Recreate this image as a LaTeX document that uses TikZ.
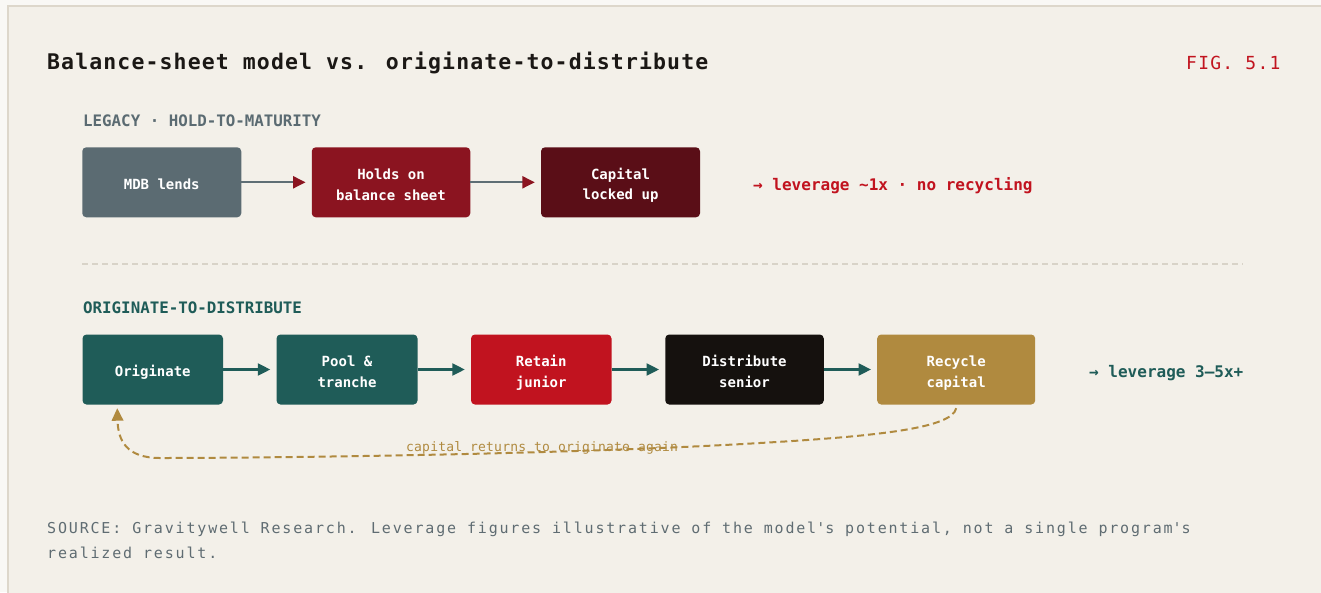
\documentclass[tikz,border=0pt]{standalone}
\usepackage{fontspec}
\usetikzlibrary{arrows.meta}
\newfontfamily\mono{DejaVu Sans Mono}

% palette
\definecolor{pagebg}{HTML}{F9F8F5}
\definecolor{panelbg}{HTML}{F3F0E9}
\definecolor{panelline}{HTML}{DDD7CB}
\definecolor{ink}{HTML}{1B1815}
\definecolor{figred}{HTML}{C1141F}
\definecolor{slate}{HTML}{5B6B72}
\definecolor{flowgray}{HTML}{5E6E75}
\definecolor{wine}{HTML}{8B1420}
\definecolor{maroon}{HTML}{5A0E17}
\definecolor{teal}{HTML}{1F5C58}
\definecolor{alarm}{HTML}{C1131F}
\definecolor{coal}{HTML}{15110E}
\definecolor{gold}{HTML}{B08A3F}
\definecolor{sepgray}{HTML}{D8D3C8}
\definecolor{notegray}{HTML}{5F6C72}

% type settings
\newcommand\titlefont{\mono\bfseries\fontsize{21.5}{26}\selectfont\addfontfeature{LetterSpace=5.2}}
\newcommand\figfont{\mono\fontsize{18}{22}\selectfont\addfontfeature{LetterSpace=7}}
\newcommand\headfont{\mono\bfseries\fontsize{15.8}{20}\selectfont}
\newcommand\boxfont{\mono\bfseries\fontsize{14}{20.5}\selectfont}
\newcommand\levfont{\mono\bfseries\fontsize{16}{20}\selectfont}
\newcommand\loopfont{\mono\fontsize{13}{16}\selectfont\addfontfeature{LetterSpace=1.5}}
\newcommand\notefont{\mono\fontsize{15}{25.3}\selectfont\addfontfeature{LetterSpace=12.2}}
% line strut: 17.5pt above and 2.5pt below the baseline
\newcommand\lnstrut{\rule[-2.5pt]{0pt}{20pt}}

\tikzset{
  stepbox/.style={rounded corners=4pt, minimum height=70pt, inner sep=0pt,
    text=white, font=\boxfont, align=center},
  txt/.style={anchor=base west, inner sep=0pt},
  legacyflow/.style={draw=flowgray, line width=2.2pt,
    -{Triangle[length=12.5pt,width=12pt,color=wine]}, shorten >=6pt},
  otdflow/.style={draw=teal, line width=2.3pt,
    -{Triangle[length=12.5pt,width=12pt]}, shorten >=6pt},
  loopflow/.style={draw=gold, line width=2pt, dash pattern=on 7pt off 4pt,
    -{Triangle[length=12.5pt,width=11.5pt]}},
}

\begin{document}
\begin{tikzpicture}[x=1pt,y=-1pt]
\useasboundingbox (0,0) rectangle (1321,592);
\fill[pagebg] (0,0) rectangle (1321,592);
\draw[panelline, fill=panelbg, line width=2pt] (7.8,5.8) rectangle (1340,610);

% heading
\node[txt, font=\titlefont, text=ink] (title) at (47,69.3)
  {Balance-sheet model vs. originate-to-distribute};
\node[txt, font=\figfont, text=figred] (fig) at (1186,69.3) {FIG. 5.1};

% legacy row
\node[txt, font=\headfont, text=slate] (legacyhead) at (83,126)
  {LEGACY · HOLD-TO-MATURITY};
\node[stepbox, fill=slate, minimum width=159pt] (mdb) at (161.75,182.3)
  {\lnstrut MDB lends};
\node[stepbox, fill=wine, minimum width=158.5pt] (holds) at (391,182.3)
  {\lnstrut Holds on\\\lnstrut balance sheet};
\node[stepbox, fill=maroon, minimum width=159pt] (locked) at (620.5,182.3)
  {\lnstrut Capital\\\lnstrut locked up};
\draw[legacyflow] (mdb.east) -- (holds.west);
\draw[legacyflow] (holds.east) -- (locked.west);
\node[txt, font=\levfont, text=alarm] (legacylev) at (753,190)
  {→ leverage \textasciitilde 1x · no recycling};

% divider
\coordinate (divl) at (82,264);
\coordinate (divr) at (1243,264);
\draw[sepgray, line width=1.3pt, dash pattern=on 6pt off 4pt] (divl) -- (divr);

% originate-to-distribute row
\node[txt, font=\headfont, text=teal] (otdhead) at (83,313.3)
  {ORIGINATE-TO-DISTRIBUTE};
\node[stepbox, fill=teal, minimum width=140.5pt] (orig) at (152.75,369.5)
  {\lnstrut Originate};
\node[stepbox, fill=teal, minimum width=141pt] (pool) at (347,369.5)
  {\lnstrut Pool \&\\\lnstrut tranche};
\node[stepbox, fill=alarm, minimum width=140.5pt] (retain) at (541.25,369.5)
  {\lnstrut Retain\\\lnstrut junior};
\node[stepbox, fill=coal, minimum width=158.5pt] (distr) at (744.5,369.5)
  {\lnstrut Distribute\\\lnstrut senior};
\node[stepbox, fill=gold, minimum width=158pt] (recyc) at (956.2,369.5)
  {\lnstrut Recycle\\\lnstrut capital};
\draw[otdflow] (orig.east) -- (pool.west);
\draw[otdflow] (pool.east) -- (retain.west);
\draw[otdflow] (retain.east) -- (distr.west);
\draw[otdflow] (distr.east) -- (recyc.west);
\node[txt, font=\levfont, text=teal] (otdlev) at (1089,377.5)
  {→ leverage 3–5x+};

% recycling loop back to origination
\draw[loopflow] ([yshift=-3.5pt]recyc.south)
  .. controls (952,428) and (880,436) .. (760,443)
  .. controls (560,455) and (250,458) .. (160,458)
  .. controls (126,458) and (118,440) .. ([xshift=-35.5pt,yshift=-3.5pt]orig.south);
\node[txt, font=\loopfont, text=gold] (looplabel) at (406,451)
  {capital returns to originate again};

% source note
\node[anchor=north west, inner sep=0pt, font=\notefont, text=notegray, align=left]
  (note) at (47,515.4)
  {\strut SOURCE: Gravitywell Research. Leverage figures illustrative of the model\textquotesingle s potential, not a single program\textquotesingle s\\realized result.};
\end{tikzpicture}
\end{document}
